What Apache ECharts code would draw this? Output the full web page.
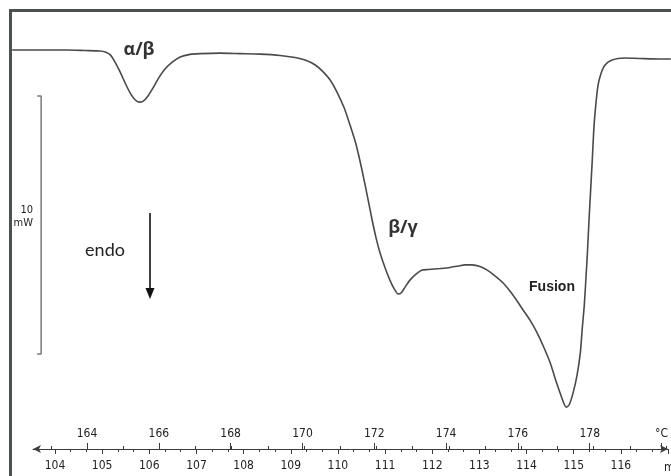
<!DOCTYPE html>
<html><head><meta charset="utf-8">
<script src="https://cdn.jsdelivr.net/npm/echarts@6/dist/echarts.min.js"></script>
<style>html,body{margin:0;padding:0;background:#fff}#c{width:671px;height:476px}</style>
</head><body><div id="c"></div>
<script>
// DSC curve: temperature (°C) vs heat flow (mW, relative; endo down)
const tempC = [161.93,162.70,163.45,163.94,164.36,164.50,164.64,164.77,164.91,165.05,
  165.19,165.33,165.44,165.55,165.68,165.82,165.96,166.15,166.35,166.57,
  166.84,167.12,167.67,168.23,168.78,169.33,169.74,170.02,170.30,170.49,
  170.71,170.90,171.10,171.26,171.43,171.59,171.76,171.87,171.98,172.09,
  172.23,172.37,172.48,172.59,172.67,172.78,172.92,173.09,173.25,173.42,
  173.75,174.02,174.25,174.44,174.63,174.85,175.05,175.27,175.49,175.74,
  176.04,176.23,176.43,176.62,176.79,176.92,177.06,177.15,177.23,177.31,
  177.42,177.53,177.62,177.67,177.73,177.78,177.81,177.86,177.89,177.95,
  178.00,178.06,178.11,178.17,178.25,178.36,178.50,178.66,178.86,179.27,
  179.82,180.12];
const heatFlow = [0,0,0,-0.02,-0.04,-0.08,-0.19,-0.47,-0.85,-1.28,
  -1.67,-1.94,-2.02,-1.98,-1.78,-1.47,-1.12,-0.74,-0.47,-0.27,
  -0.17,-0.14,-0.12,-0.14,-0.16,-0.21,-0.29,-0.39,-0.58,-0.81,
  -1.16,-1.63,-2.25,-2.91,-3.68,-4.65,-5.81,-6.59,-7.29,-7.87,
  -8.45,-8.95,-9.26,-9.46,-9.42,-9.19,-8.91,-8.68,-8.53,-8.51,
  -8.47,-8.43,-8.37,-8.33,-8.33,-8.39,-8.53,-8.76,-9.03,-9.46,
  -10.08,-10.47,-10.97,-11.55,-12.13,-12.71,-13.29,-13.64,-13.84,-13.76,
  -13.29,-12.60,-11.74,-10.85,-9.88,-8.72,-8.02,-6.59,-5.81,-4.26,
  -2.91,-1.94,-1.36,-1.01,-0.70,-0.50,-0.39,-0.33,-0.31,-0.33,
  -0.35,-0.35];
const tempTickLabels = [164,166,168,170,172,174,176,178];
const timeTickLabels = [104,105,106,107,108,109,110,111,112,113,114,115,116];
// 10 mW scale bar (bracket)
const scaleBarT = [162.62,162.73,162.73,162.62];
const scaleBarMW = [-1.78,-1.78,-11.78,-11.78];

const curve = tempC.map((t,i)=>[t,heatFlow[i]]);
const bar = scaleBarT.map((t,i)=>[t,scaleBarMW[i]]);

const narrow = '"Liberation Sans Narrow","DejaVu Sans Condensed","Arial Narrow","Liberation Sans",sans-serif';
const axisColor = '#3c3c3c';
const labelColor = '#222';
const frameColor = '#4b5050';
const noSplit = {show:false};

const chart = echarts.init(document.getElementById('c'));
const hiddenY = i => ({gridIndex:i,type:'value',show:false,min:0,max:1,splitLine:noSplit});

chart.setOption({
  animation:false,
  backgroundColor:'#fff',
  grid:[
    {left:12,right:0,top:12,bottom:27},
    {left:87,right:5,top:449,height:10},
    {left:50.79,right:5,top:449,height:10},
    {left:55,right:-12.33,top:439,height:10},
    {left:33,right:3,top:439,height:10}
  ],
  xAxis:[
    {gridIndex:0,type:'value',min:161.925,max:180.124,show:false,splitLine:noSplit},
    {gridIndex:1,type:'value',position:'top',min:164,max:180,interval:2,
      axisLine:{show:false,onZero:false},
      axisTick:{show:true,length:6,lineStyle:{color:axisColor,width:1}},
      splitLine:noSplit,
      axisLabel:{margin:9,fontSize:12,fontFamily:narrow,color:labelColor,showMaxLabel:true,showMinLabel:true,
        formatter:v=> v===180 ? '°C' : (tempTickLabels.indexOf(v)>=0 ? String(v) : '')}},
    {gridIndex:2,type:'value',position:'top',min:163,max:180,interval:1,
      axisLine:{show:false,onZero:false},
      axisTick:{show:true,length:3,lineStyle:{color:axisColor,width:1}},
      splitLine:noSplit,axisLabel:{show:false}},
    {gridIndex:3,type:'value',position:'bottom',min:104,max:117,interval:1,
      axisLine:{show:false,onZero:false},
      axisTick:{show:true,length:5,lineStyle:{color:axisColor,width:1}},
      minorTick:{show:true,splitNumber:3,length:3,lineStyle:{color:axisColor,width:1}},
      splitLine:noSplit,minorSplitLine:{show:false},
      axisLabel:{margin:11,fontSize:12,fontFamily:narrow,color:labelColor,showMinLabel:true,showMaxLabel:true,
        formatter:v=> timeTickLabels.indexOf(v)>=0 ? String(v) : ''}},
    {gridIndex:4,type:'value',position:'bottom',min:0,max:1,
      axisLine:{show:true,onZero:false,symbol:['arrow','arrow'],symbolSize:[6,8],lineStyle:{color:axisColor,width:1}},
      axisTick:{show:false},axisLabel:{show:false},splitLine:noSplit}
  ],
  yAxis:[
    {gridIndex:0,type:'value',show:false,min:-15.465,max:1.473,splitLine:noSplit},
    hiddenY(1),hiddenY(2),hiddenY(3),hiddenY(4)
  ],
  series:[
    {type:'line',xAxisIndex:0,yAxisIndex:0,data:curve,showSymbol:false,smooth:0.25,clip:false,
      lineStyle:{color:'#4a4a4a',width:1.6},silent:true},
    {type:'line',xAxisIndex:0,yAxisIndex:0,data:bar,showSymbol:false,clip:false,
      lineStyle:{color:'#7a7a7a',width:1.5},silent:true}
  ],
  graphic:[
    {type:'rect',shape:{x:9,y:9,width:662,height:3},style:{fill:frameColor},silent:true},
    {type:'rect',shape:{x:9,y:9,width:3,height:467},style:{fill:frameColor},silent:true},
    {type:'text',x:33,y:210,style:{text:'10',font:'11px '+narrow,fill:labelColor,align:'right',verticalAlign:'middle',textAlign:'right',textVerticalAlign:'middle'}},
    {type:'text',x:33,y:223,style:{text:'mW',font:'11px '+narrow,fill:labelColor,align:'right',verticalAlign:'middle',textAlign:'right',textVerticalAlign:'middle'}},
    {type:'text',x:105,y:250,style:{text:'endo',font:'18px Lato, "Open Sans", sans-serif',fill:'#222',align:'center',verticalAlign:'middle',textAlign:'center',textVerticalAlign:'middle'}},
    {type:'line',shape:{x1:150,y1:213,x2:150,y2:290},style:{stroke:'#111',lineWidth:1.6}},
    {type:'polygon',shape:{points:[[145.5,288],[154.5,288],[150,299]]},style:{fill:'#111'}},
    {type:'text',x:139,y:50,style:{text:'α/β',font:'bold 18px "Open Sans", sans-serif',fill:'#333',align:'center',verticalAlign:'middle',textAlign:'center',textVerticalAlign:'middle'}},
    {type:'text',x:403,y:228,style:{text:'β/γ',font:'bold 18px "Open Sans", sans-serif',fill:'#333',align:'center',verticalAlign:'middle',textAlign:'center',textVerticalAlign:'middle'}},
    {type:'text',x:552,y:287,style:{text:'Fusion',font:'bold 14px "Liberation Sans", sans-serif',fill:'#222',align:'center',verticalAlign:'middle',textAlign:'center',textVerticalAlign:'middle'}},
    {type:'text',x:664,y:468,style:{text:'min',font:'12px '+narrow,fill:labelColor,align:'left',verticalAlign:'middle',textAlign:'left',textVerticalAlign:'middle'}}
  ]
});
</script></body></html>
